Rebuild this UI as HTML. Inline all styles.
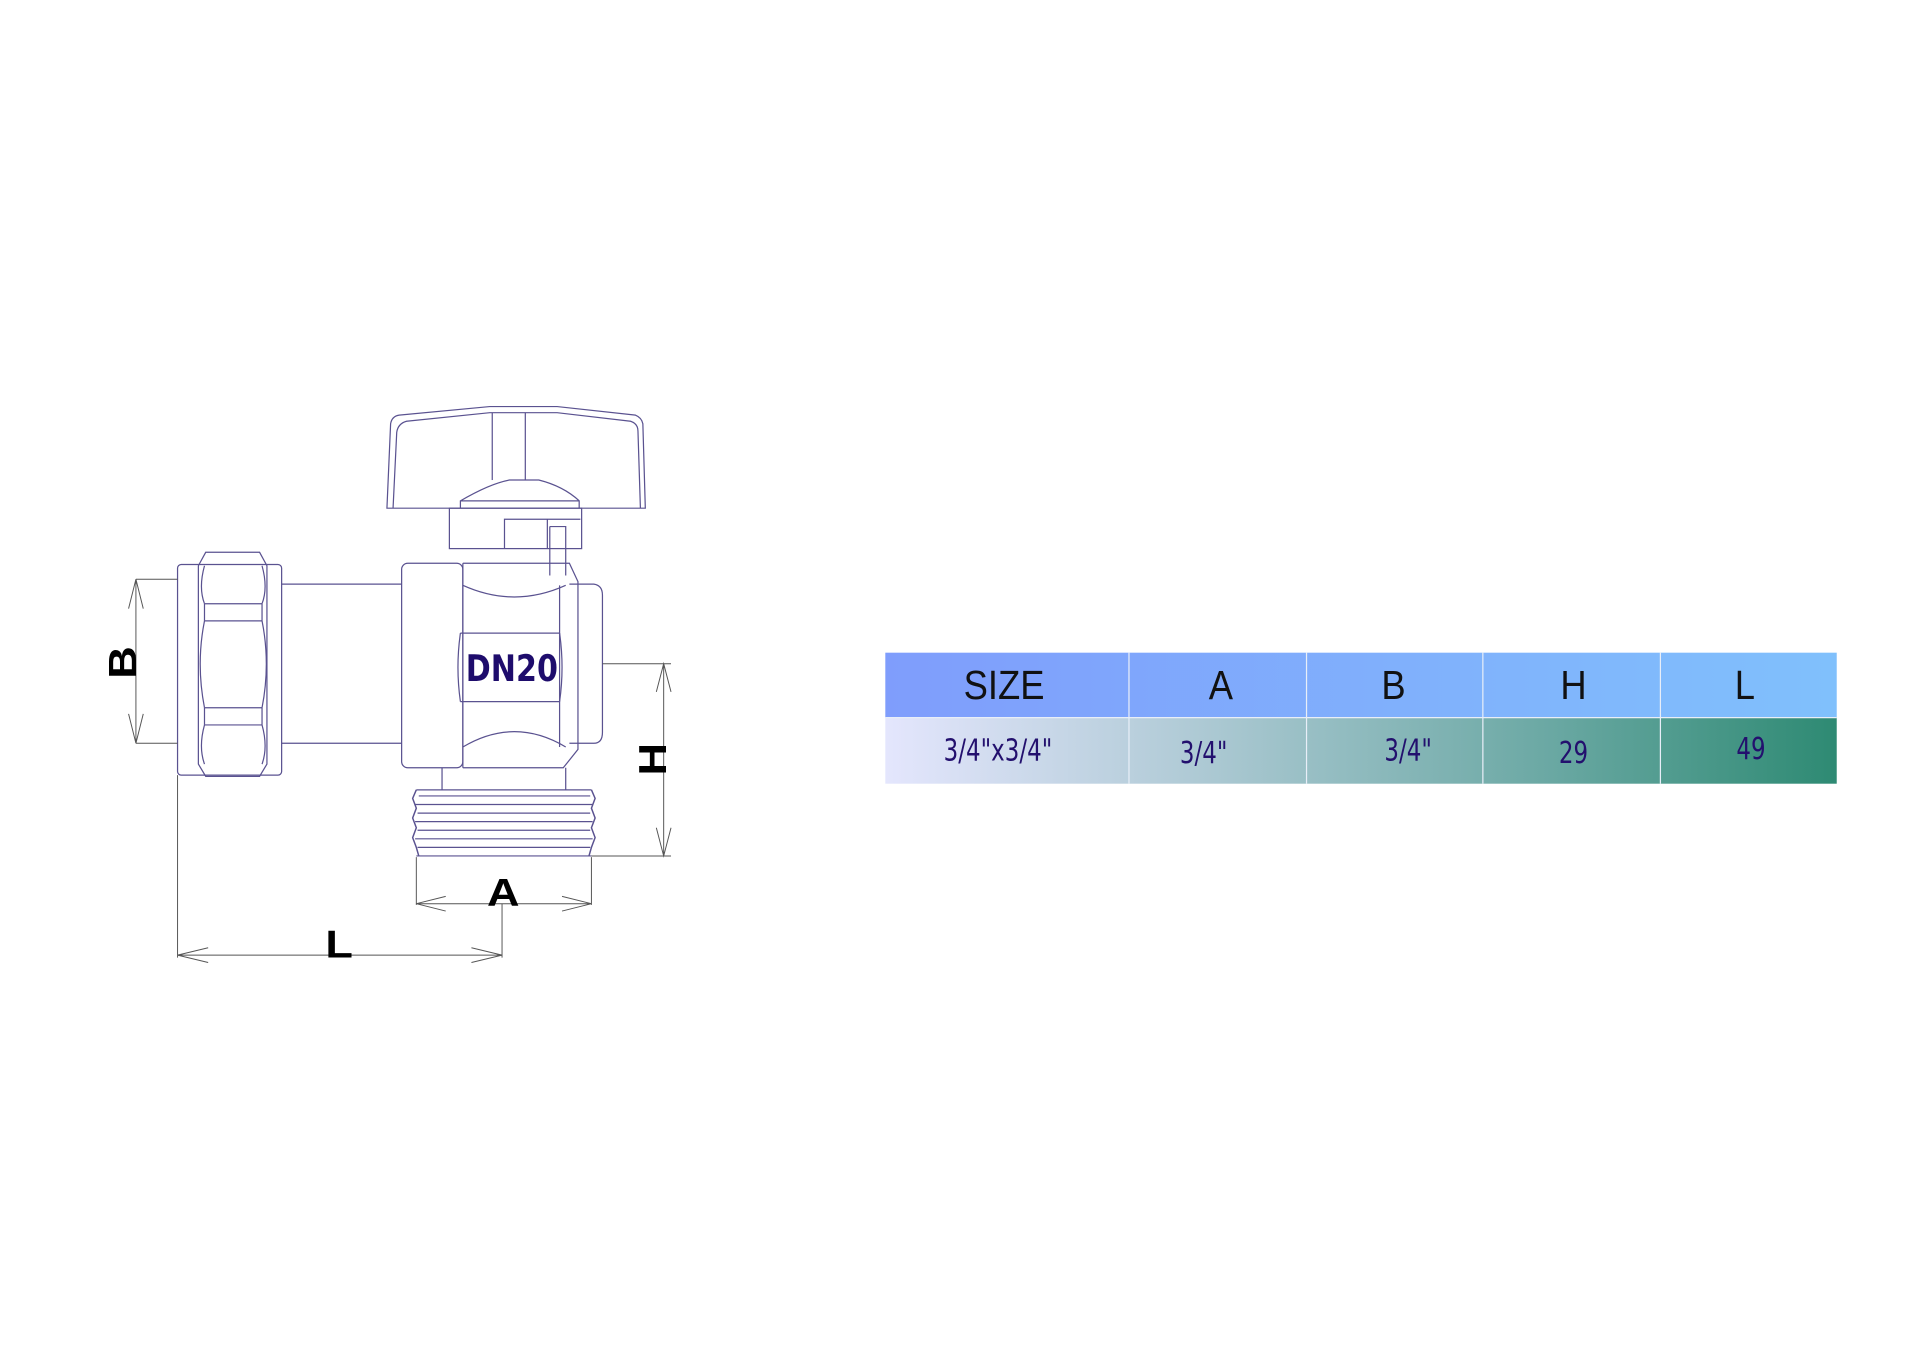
<!DOCTYPE html>
<html><head><meta charset="utf-8"><style>
html,body{margin:0;padding:0;background:#fff}
svg{display:block}
</style></head><body>
<svg width="1920" height="1347" viewBox="0 0 1568 1100" xmlns="http://www.w3.org/2000/svg">
<defs>
<linearGradient id="hd" x1="0" x2="1"><stop offset="0" stop-color="#7f9dfc"/><stop offset="1" stop-color="#80c0fc"/></linearGradient>
<linearGradient id="rw" x1="0" x2="1"><stop offset="0" stop-color="#e4e6fd"/><stop offset="0.3" stop-color="#b3ccd8"/><stop offset="0.7" stop-color="#6aa8a3"/><stop offset="1" stop-color="#2e8a73"/></linearGradient>
</defs>
<g fill="none" stroke="#5a5290" stroke-width="1">
<path d="M316,415 L319,346 Q320,340 326,339 L400,332 L455,332 L519,339 Q524,341 525,346 L527,415 Z"/>
<path d="M321,415 L324,353 Q325,346 332,344 L400,337 L455,337 L515,344 Q521,346 521,352 L523,415"/>
<line x1="402" y1="337" x2="402" y2="392"/><line x1="429" y1="337" x2="429" y2="392"/>
<path d="M376,415 L376,409 Q400,395 416,392 L440,392 Q460,397 473,409 L473,415 M376,409 L473,409"/>
<rect x="367" y="415" width="108" height="33"/>
<path d="M412,448 L412,424 L474,424 M447,424 L447,448 M449,430 L462,430 L462,470 M449,430 L449,470"/>
<rect x="145" y="461" width="85" height="172" rx="3"/>
<path d="M168,451 L212,451 L218,462 L218,624 L212,634 L168,634 L162,624 L162,462 Z"/>
<path d="M167,493 L214,493 M167,507 L214,507 M167,578 L214,578 M167,592 L214,592"/>
<path d="M167,493 L167,507 M214,493 L214,507 M167,578 L167,592 M214,578 L214,592"/>
<path d="M167,507 Q160,542 167,578 M214,507 Q221,542 214,578"/>
<path d="M167,493 Q162,480 167,462 M214,493 Q219,480 214,462 M167,592 Q162,610 167,624 M214,592 Q219,610 214,624"/>
<path d="M230,477 L328,477 M230,607 L328,607"/>
<rect x="328" y="460" width="50" height="167" rx="5"/>
<path d="M378,460 L465,460 L472,475 L472,612 L460,627 L378,627"/>
<path d="M378,478 Q420,497 462,478 M378,610 Q420,585 462,610"/>
<path d="M465,477 L485,477 Q492,478 492,486 L492,598 Q492,607 485,607 L465,607"/>
<path d="M378,460 L378,627 M457,478 L457,610"/>
<path d="M376,517 L457,517 M376,573 L457,573"/>
<path d="M376,517 Q372,545 376,573 M457,517 Q461,545 457,573"/>
<path d="M361,627 L361,645 M462,627 L462,645 M340,645 L483,645"/>
<path d="M342,650 L482,650 M339,657 L484,657 M341,664 L482,664 M339,671 L484,671 M341,678 L482,678 M339,685 L484,685 M341,692 L482,692 M340,699 L483,699"/>
<path d="M340,645 L337,652 L340,660 L337,668 L340,676 L337,684 L340,692 L342,699 M483,645 L486,652 L483,660 L486,668 L483,676 L486,684 L483,692 L481,699" stroke-width="1.2"/>
</g>
<text x="0" y="0" font-family="'DejaVu Sans','Liberation Sans',sans-serif" font-weight="bold" font-size="30" fill="#1e0c6c" text-anchor="middle" transform="translate(418,556) scale(0.82,1)">DN20</text>
<g fill="none" stroke="#555" stroke-width="0.8">
<path d="M111,473 L145,473 M111,607 L145,607 M111,473 L111,607 M105,497 L111,473 L117,497 M105,583 L111,607 L117,583"/>
<path d="M492,542 L548,542 M483,699 L548,699 M542,542 L542,699 M536,565 L542,542 L548,565 M536,676 L542,699 L548,676"/>
<path d="M340,700 L340,739 M483,700 L483,739 M340,738 L483,738 M364,732 L340,738 L364,744 M459,732 L483,738 L459,744"/>
<path d="M145,633 L145,782 M410,738 L410,782 M145,780 L410,780 M170,774 L145,780 L170,786 M385,774 L410,780 L385,786"/>
</g>
<g font-family="'Liberation Sans',sans-serif" font-weight="bold" fill="#000" font-size="32" text-anchor="middle">
<text x="0" y="0" transform="translate(111,541) rotate(-90) scale(1.15,1)">B</text>
<text x="0" y="0" transform="translate(544,620) rotate(-90) scale(1.15,1)">H</text>
<text x="0" y="0" transform="translate(411,740) scale(1.15,1)">A</text>
<text x="0" y="0" transform="translate(277,782) scale(1.15,1)">L</text>
</g>
<rect x="723" y="533" width="777" height="53" fill="url(#hd)"/>
<rect x="723" y="586" width="777" height="54" fill="url(#rw)"/>
<g stroke="#e8eef8" stroke-width="1">
<line x1="723" y1="586" x2="1500" y2="586"/>
<line x1="922" y1="533" x2="922" y2="640"/><line x1="1067" y1="533" x2="1067" y2="640"/>
<line x1="1211" y1="533" x2="1211" y2="640"/><line x1="1356" y1="533" x2="1356" y2="640"/>
</g>
<g font-family="'Liberation Sans',sans-serif" font-size="33" fill="#111" text-anchor="middle">
<text transform="translate(820,571) scale(0.9,1)">SIZE</text>
<text transform="translate(997,571) scale(0.9,1)">A</text>
<text transform="translate(1138,571) scale(0.9,1)">B</text>
<text transform="translate(1285,571) scale(0.9,1)">H</text>
<text transform="translate(1425,571) scale(0.9,1)">L</text>
</g>
<g font-family="'DejaVu Sans','Liberation Sans',sans-serif" font-size="25" fill="#23106e" text-anchor="middle">
<text transform="translate(815,621) scale(0.75,1)">3/4"x3/4"</text>
<text transform="translate(983,623) scale(0.75,1)">3/4"</text>
<text transform="translate(1150,621) scale(0.75,1)">3/4"</text>
<text transform="translate(1285,623) scale(0.75,1)">29</text>
<text transform="translate(1430,620) scale(0.75,1)">49</text>
</g>
</svg>
</body></html>
